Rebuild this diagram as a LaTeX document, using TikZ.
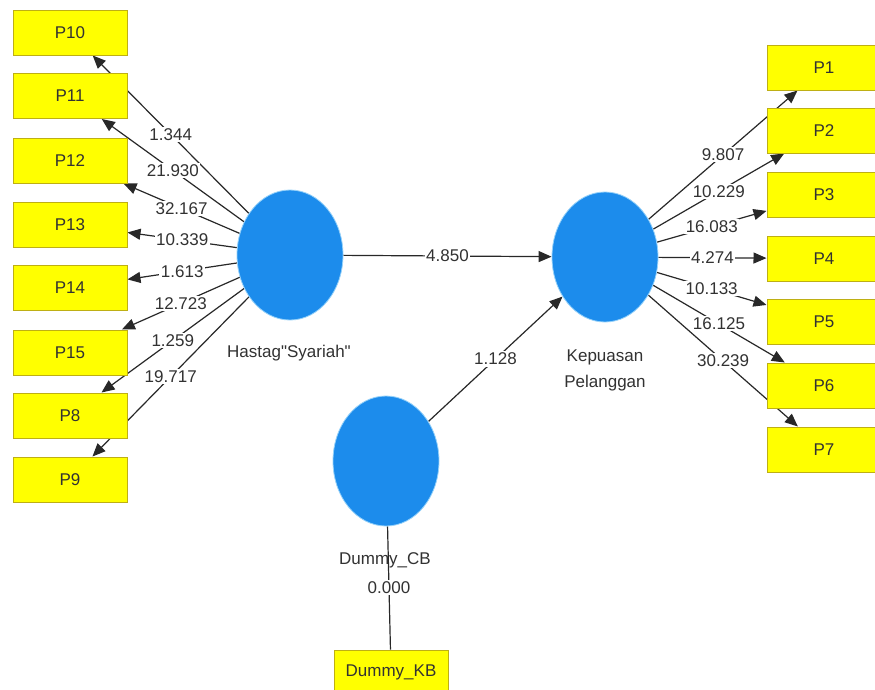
\documentclass[tikz,border=0pt]{standalone}
\usepackage{fontspec}
\setmainfont{Liberation Sans}[Ligatures=TeXOff]
\usetikzlibrary{arrows.meta,shapes.geometric}
\pgfdeclarelayer{bg}
\pgfdeclarelayer{edges}
\pgfsetlayers{bg,edges,main}
\definecolor{latent}{RGB}{28,140,236}
\definecolor{latentrim}{RGB}{150,210,250}
\definecolor{indfill}{RGB}{255,255,0}
\definecolor{indline}{RGB}{190,175,20}
\definecolor{pathline}{RGB}{40,40,40}
\definecolor{txt}{RGB}{50,50,50}

\begin{document}
\begin{tikzpicture}[x=1pt,y=-1pt,
  font=\fontsize{17}{20}\selectfont,
  latentvar/.style={ellipse, fill=latent, draw=latentrim, line width=0.8pt,
    minimum width=106pt, minimum height=130pt, inner sep=0pt},
  indicator/.style={rectangle, fill=indfill, draw=indline, line width=1pt,
    minimum width=114pt, minimum height=45pt, inner sep=0pt, text=txt},
  conn/.style={draw=pathline, line width=1.2pt, -{Triangle[length=13pt,width=11pt]}},
  plainconn/.style={draw=pathline, line width=1.2pt},
  coef/.style={fill=white, inner sep=1.5pt, text=txt},
  caption/.style={text=txt, align=center, inner sep=0pt}
]
\begin{pgfonlayer}{bg}
  \fill[white] (0,0) rectangle (875,689);
\end{pgfonlayer}
\useasboundingbox (0,0) rectangle (875,689);

% latent variables
\node[latentvar] (hs)  at (290,255) {};
\node[latentvar] (kp)  at (605,257) {};
\node[latentvar] (dcb) at (386,461) {};

\node[caption] (hslab)  at (289,353) {Hastag"Syariah"};
\node[caption, font=\fontsize{17}{26}\selectfont] (kplab) at (605,370) {Kepuasan\\Pelanggan};

% indicators of Hastag"Syariah"
\node[indicator] (p10) at (70,32.5)  {P10};
\node[indicator] (p11) at (70,96)    {P11};
\node[indicator] (p12) at (70,160.5) {P12};
\node[indicator] (p13) at (70,224.5) {P13};
\node[indicator] (p14) at (70,288)   {P14};
\node[indicator] (p15) at (70,352.5) {P15};
\node[indicator] (p8)  at (70,415.5) {P8};
\node[indicator] (p9)  at (70,479.5) {P9};

% indicators of Kepuasan Pelanggan
\node[indicator] (p1) at (824,67.5)  {P1};
\node[indicator] (p2) at (824,130.5) {P2};
\node[indicator] (p3) at (824,194.5) {P3};
\node[indicator] (p4) at (824,258.5) {P4};
\node[indicator] (p5) at (824,322)   {P5};
\node[indicator] (p6) at (824,385.5) {P6};
\node[indicator] (p7) at (824,449.5) {P7};

% dummy indicator
\node[indicator] (dkb) at (391,672.5) {Dummy\_KB};

\begin{pgfonlayer}{edges}
  % outer loadings, left block
  \draw[conn] (hs) -- (p10) node[coef, midway] {1.344};
  \draw[conn] (hs) -- (p11) node[coef, midway] {21.930};
  \draw[conn] (hs) -- (p12) node[coef, midway] {32.167};
  \draw[conn] (hs) -- (p13) node[coef, midway] {10.339};
  \draw[conn] (hs) -- (p14) node[coef, midway] {1.613};
  \draw[conn] (hs) -- (p15) node[coef, midway] {12.723};
  \draw[conn] (hs) -- (p8)  node[coef, midway] {1.259};
  \draw[conn] (hs) -- (p9)  node[coef, midway] {19.717};

  % outer loadings, right block
  \draw[conn] (kp) -- (p1) node[coef, midway] {9.807};
  \draw[conn] (kp) -- (p2) node[coef, midway] {10.229};
  \draw[conn] (kp) -- (p3) node[coef, midway] {16.083};
  \draw[conn] (kp) -- (p4) node[coef, midway] {4.274};
  \draw[conn] (kp) -- (p5) node[coef, midway] {10.133};
  \draw[conn] (kp) -- (p6) node[coef, midway] {16.125};
  \draw[conn] (kp) -- (p7) node[coef, midway] {30.239};

  % inner model
  \draw[conn] (hs)  -- (kp) node[coef, midway] {4.850};
  \draw[conn] (dcb) -- (kp) node[coef, midway] {1.128};

  % dummy measurement
  \draw[plainconn] (dcb) -- (dkb) node[coef, pos=0.5] {0.000};
\end{pgfonlayer}

\node[caption] (dcblab) at (385,560) {Dummy\_CB};
\end{tikzpicture}
\end{document}
